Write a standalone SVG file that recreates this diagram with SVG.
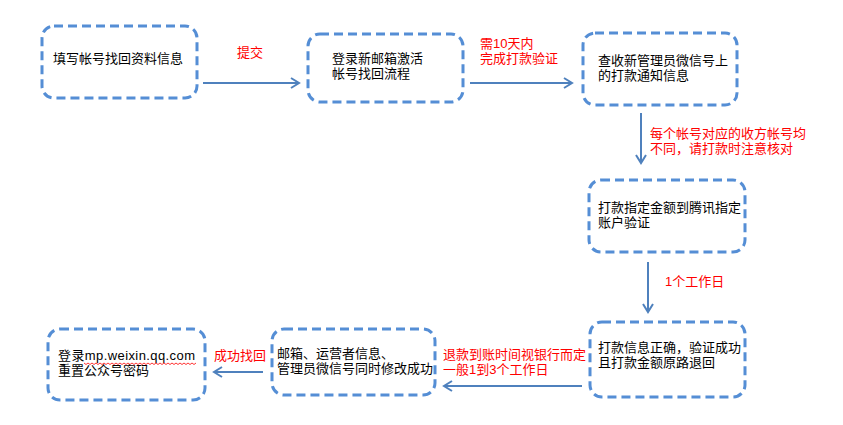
<svg xmlns="http://www.w3.org/2000/svg" width="843" height="425" viewBox="0 0 843 425">
<defs>
<marker id="ah" viewBox="0 0 12 12" refX="10" refY="6" markerWidth="12" markerHeight="12" markerUnits="userSpaceOnUse" orient="auto">
<polyline points="2,1 10,6 2,11" fill="none" stroke="#4F81BD" stroke-width="2"/>
</marker>
</defs>
<style>
.box{fill:#fff;stroke:#558ED5;stroke-width:3;stroke-dasharray:9,5}
.t{font-family:"Liberation Sans","Noto Sans CJK SC",sans-serif;font-size:13px;fill:#000}
.r{font-family:"Liberation Sans","Noto Sans CJK SC",sans-serif;font-size:13px;fill:#FF0000}
.c{fill:none;stroke:#4F81BD;stroke-width:2;marker-end:url(#ah)}
</style>
<rect width="843" height="425" fill="#fff"/>
<g id="connectors">
<line class="c" x1="203" y1="83" x2="299" y2="83"/>
<line class="c" x1="470" y1="83" x2="572" y2="83"/>
<line class="c" x1="641" y1="113" x2="641" y2="163"/>
<line class="c" x1="648" y1="262" x2="648" y2="312"/>
<line class="c" x1="582" y1="386" x2="444" y2="386"/>
<line class="c" x1="263" y1="372" x2="214" y2="372"/>
<text class="r" x="237" y="57">提交</text>
<text class="r" x="480" y="48">需10天内</text>
<text class="r" x="480" y="63">完成打款验证</text>
<text class="r" x="650" y="138">每个帐号对应的收方帐号均</text>
<text class="r" x="650" y="153">不同，请打款时注意核对</text>
<text class="r" x="665" y="286">1个工作日</text>
<text class="r" x="443" y="359">退款到账时间视银行而定</text>
<text class="r" x="443" y="374">一般1到3个工作日</text>
<text class="r" x="214" y="360">成功找回</text>
</g>
<g id="n1">
<rect class="box" x="42" y="26" width="155" height="72" rx="12"/>
<text class="t" x="53" y="63">填写帐号找回资料信息</text>
</g>
<g id="n2">
<rect class="box" x="308" y="34" width="155" height="68" rx="12"/>
<text class="t" x="332" y="63">登录新邮箱激活</text>
<text class="t" x="332" y="78">帐号找回流程</text>
</g>
<g id="n3">
<rect class="box" x="583" y="33" width="154" height="72" rx="12"/>
<text class="t" x="598" y="65">查收新管理员微信号上</text>
<text class="t" x="598" y="80">的打款通知信息</text>
</g>
<g id="n4">
<rect class="box" x="589" y="180" width="156" height="72" rx="12"/>
<text class="t" x="598" y="212">打款指定金额到腾讯指定</text>
<text class="t" x="598" y="227">账户验证</text>
</g>
<g id="n5">
<rect class="box" x="590" y="322" width="155" height="75" rx="12"/>
<text class="t" x="598" y="352">打款信息正确，验证成功</text>
<text class="t" x="598" y="367">且打款金额原路退回</text>
</g>
<g id="n6">
<rect class="box" x="272" y="329" width="163" height="66" rx="12"/>
<text class="t" x="277" y="358">邮箱、运营者信息、</text>
<text class="t" x="277" y="373">管理员微信号同时修改成功</text>
</g>
<g id="n7">
<rect class="box" x="48" y="329" width="157" height="71" rx="12"/>
<text class="t" x="58" y="360" textLength="137" lengthAdjust="spacing">登录mp.weixin.qq.com</text>
<text class="t" x="58" y="375">重置公众号密码</text>
<path d="M84,363 l2,1.5 l2,-1.5 l2,1.5 l2,-1.5 l2,1.5 l2,-1.5 l2,1.5 l2,-1.5 l2,1.5 l2,-1.5 l2,1.5 l2,-1.5 l2,1.5 l2,-1.5 l2,1.5 l2,-1.5 l2,1.5 l2,-1.5 l2,1.5 l2,-1.5 l2,1.5 l2,-1.5 l2,1.5 l2,-1.5 l2,1.5 l2,-1.5 l2,1.5 l2,-1.5 l2,1.5 l2,-1.5 l2,1.5 l2,-1.5 l2,1.5 l2,-1.5 l2,1.5 l2,-1.5 l2,1.5 l2,-1.5 l2,1.5 l2,-1.5 l2,1.5 l2,-1.5 l2,1.5 l2,-1.5 l2,1.5 l2,-1.5 l2,1.5 l2,-1.5 l2,1.5 l2,-1.5 l2,1.5 l2,-1.5 l2,1.5 l2,-1.5 l2,1.5 l2,-1.5" fill="none" stroke="#FF0000" stroke-width="0.8"/>
</g>
</svg>
